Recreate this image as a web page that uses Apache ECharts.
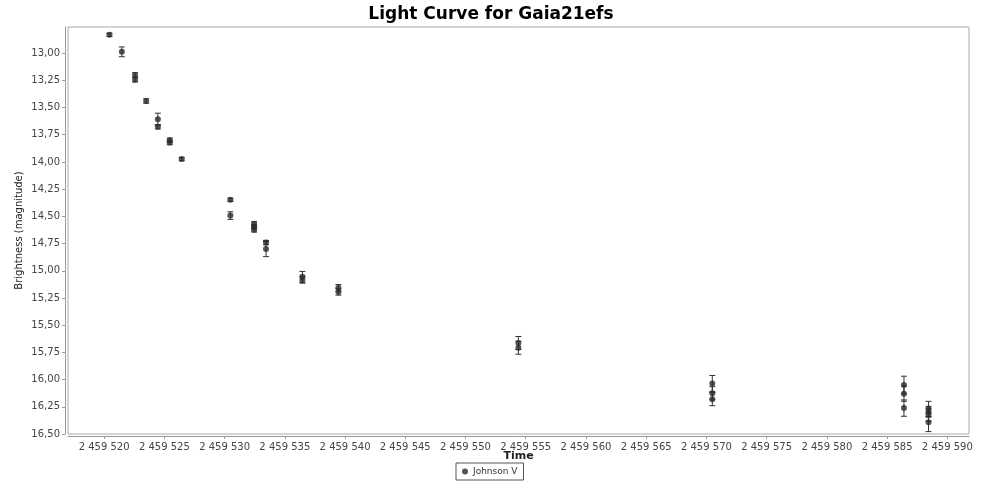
<!DOCTYPE html>
<html><head><meta charset="utf-8">
<script src="https://cdn.jsdelivr.net/npm/echarts@6/dist/echarts.min.js"></script>
<style>html,body{margin:0;padding:0;background:#fff}#c{width:982px;height:481px}</style>
</head><body><div id="c"></div>
<script>
// Julian dates of the observations
const times = [
  2459520.44, 2459521.47, 2459522.57, 2459522.57, 2459523.49, 2459524.46, 2459524.46,
  2459525.45, 2459525.45, 2459526.44, 2459530.48, 2459530.48, 2459532.45, 2459532.45,
  2459532.45, 2459533.44, 2459533.44, 2459536.46, 2459536.46, 2459539.45, 2459539.45,
  2459554.39, 2459554.39, 2459570.49, 2459570.49, 2459570.49, 2459586.40, 2459586.40,
  2459586.40, 2459588.44, 2459588.44, 2459588.44, 2459588.44
];
// Johnson V magnitudes
const mags = [
  12.832, 12.988, 13.200, 13.245, 13.440, 13.607, 13.677,
  13.800, 13.822, 13.974, 14.348, 14.493, 14.569, 14.597,
  14.624, 14.741, 14.800, 15.056, 15.084, 15.157, 15.194,
  15.664, 15.707, 16.037, 16.125, 16.180, 16.049, 16.129,
  16.262, 16.270, 16.295, 16.322, 16.393
];
// magnitude uncertainties
const errs = [
  0.015, 0.045, 0.020, 0.020, 0.020, 0.055, 0.020,
  0.020, 0.020, 0.015, 0.015, 0.035, 0.020, 0.020,
  0.020, 0.020, 0.070, 0.050, 0.030, 0.030, 0.030,
  0.060, 0.060, 0.075, 0.060, 0.060, 0.080, 0.070,
  0.075, 0.070, 0.050, 0.060, 0.085
];
const xTicks = [2459520, 2459525, 2459530, 2459535, 2459540, 2459545, 2459550, 2459555,
  2459560, 2459565, 2459570, 2459575, 2459580, 2459585, 2459590];
const yTicks = [13.00, 13.25, 13.50, 13.75, 14.00, 14.25, 14.50, 14.75, 15.00, 15.25,
  15.50, 15.75, 16.00, 16.25, 16.50];
const seriesName = 'Johnson V';

const pts = times.map((t, i) => [t, mags[i], errs[i]]);
const font = 'DejaVu Sans, Verdana, sans-serif';

function fmtX(v) {
  const s = String(Math.round(v));
  return s.replace(/\B(?=(\d{3})+(?!\d))/g, ' ');
}
function fmtY(v) { return v.toFixed(2).replace('.', ','); }

const chart = echarts.init(document.getElementById('c'), null, {renderer: 'canvas'});
chart.setOption({
  animation: false,
  backgroundColor: '#fff',
  title: {
    text: 'Light Curve for Gaia21efs', left: 'center', top: 1,
    textStyle: {fontFamily: font, fontSize: 17, fontWeight: 'bold', color: '#000'}
  },
  legend: {
    data: [seriesName], left: 456, top: 463,
    borderColor: '#555', borderWidth: 1, borderRadius: 0, padding: [4, 6, 4, 6],
    itemWidth: 6, itemHeight: 6, itemGap: 4, icon: 'circle',
    textStyle: {fontFamily: font, fontSize: 9, color: '#333'}
  },
  grid: {
    left: 68, right: 13, top: 27, bottom: 47,
    show: true, borderColor: '#aaa', borderWidth: 1, backgroundColor: '#fff',
    containLabel: false, outerBoundsMode: 'none'
  },
  xAxis: {
    type: 'value', min: 2459517, max: 2459591.8, offset: 2,
    name: 'Time', nameLocation: 'middle', nameGap: 15, nameMoveOverlap: false,
    nameTextStyle: {fontFamily: font, fontSize: 11, fontWeight: 'bold', color: '#222',
      verticalAlign: 'top'},
    axisLine: {show: true, lineStyle: {color: '#999'}},
    axisTick: {show: true, length: 3, customValues: xTicks, lineStyle: {color: '#999'}},
    axisLabel: {customValues: xTicks, formatter: fmtX, margin: 6,
      fontFamily: font, fontSize: 10, color: '#444'},
    splitLine: {show: false}
  },
  yAxis: {
    type: 'value', inverse: true, min: 12.76, max: 16.5, offset: 3,
    name: 'Brightness (magnitude)', nameLocation: 'middle', nameGap: 41, nameMoveOverlap: false,
    nameTextStyle: {fontFamily: font, fontSize: 10, color: '#222'},
    axisLine: {show: true, lineStyle: {color: '#999'}},
    axisTick: {show: true, length: 3, customValues: yTicks, lineStyle: {color: '#999'}},
    axisLabel: {customValues: yTicks, formatter: fmtY, margin: 5,
      fontFamily: font, fontSize: 10, color: '#444'},
    splitLine: {show: false}
  },
  series: [
    {
      type: 'custom', name: 'err', silent: true, z: 2,
      data: pts, encode: {x: 0, y: 1},
      renderItem: function (params, api) {
        const x = api.value(0), y = api.value(1), e = api.value(2);
        const a = api.coord([x, y - e]);
        const b = api.coord([x, y + e]);
        const cw = 3;
        const st = {stroke: '#333', lineWidth: 1};
        return {type: 'group', children: [
          {type: 'line', shape: {x1: a[0], y1: a[1], x2: b[0], y2: b[1]}, style: st},
          {type: 'line', shape: {x1: a[0] - cw, y1: a[1], x2: a[0] + cw, y2: a[1]}, style: st},
          {type: 'line', shape: {x1: b[0] - cw, y1: b[1], x2: b[0] + cw, y2: b[1]}, style: st}
        ]};
      }
    },
    {
      type: 'scatter', name: seriesName, z: 3,
      data: pts.map(p => [p[0], p[1]]),
      symbol: 'circle', symbolSize: 6,
      itemStyle: {color: '#2a2a2a'}
    }
  ]
});
</script>
</body></html>
